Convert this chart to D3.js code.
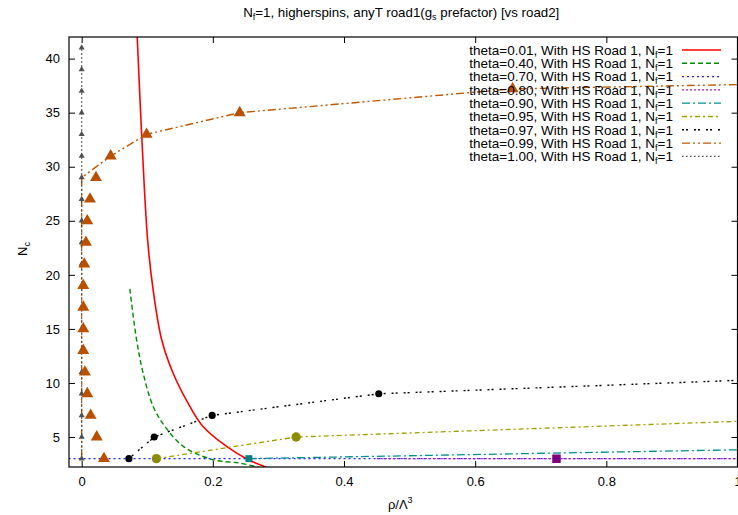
<!DOCTYPE html>
<html>
<head>
<meta charset="utf-8">
<script src="https://cdn.jsdelivr.net/npm/d3@7"></script>
<style>
  body { margin: 0; background: #fff; }
  text { font-family: "Liberation Sans", Arial, sans-serif; fill: #000; }
</style>
</head>
<body>
<svg id="chart" width="738" height="515"></svg>
<script>
// Series: [rho/Lambda^3, N_c]
const theta001 = [[0.083, 44], [0.0847, 42], [0.0914, 33.1], [0.1005, 23.3], [0.109, 18.6], [0.122, 14.0],
                  [0.1395, 10.9], [0.165, 7.83], [0.185, 5.98], [0.221, 4.13], [0.254, 2.9], [0.282, 2.2]];
const theta040 = [[0.0735, 18.7], [0.0837, 14.0], [0.0938, 10.9], [0.109, 7.83], [0.127, 5.98],
                  [0.155, 4.13], [0.2, 2.9], [0.241, 2.59], [0.27, 2.2]];
const theta070 = [[-0.02, 3], [1.0, 3]];
const theta080 = [[0.45, 3], [0.724, 3], [1.0, 3]];
const theta080Pts = [[0.724, 3]];
const theta090 = [[0.255, 3], [1.0, 3.82]];
const theta090Pts = [[0.255, 3]];
const theta095 = [[0.114, 3], [0.327, 5], [1.0, 6.45]];
const theta095Pts = [[0.114, 3], [0.327, 5]];
const theta097 = [[0.072, 3], [0.1106, 5], [0.199, 7], [0.453, 9], [1.0, 10.24]];
const theta097Pts = [[0.072, 3], [0.1106, 5], [0.199, 7], [0.453, 9]];
const theta099 = [[0, 3], [0, 29], [0.0446, 31], [0.099, 33], [0.241, 35], [0.657, 37.2], [1.0, 37.6]];
const theta099Pts = [[0.034, 3], [0.023, 5], [0.0137, 7], [0.0086, 9], [0.005, 11], [0.0025, 13], [0.0025, 15],
                     [0.0025, 17], [0.0025, 19], [0.004, 21], [0.0065, 23], [0.0086, 25], [0.0127, 27],
                     [0.0218, 29], [0.0442, 31], [0.099, 33], [0.241, 35], [0.657, 37.2]];
const theta100 = [[0, 3], [0, 41]];
const theta100Pts = [3, 5, 7, 9, 11, 13, 15, 17, 19, 21, 23, 25, 27, 29, 31, 33, 35, 37, 39, 41].map(n => [0, n]);

const thetaLabels = ["0.01", "0.40", "0.70", "0.80", "0.90", "0.95", "0.97", "0.99", "1.00"];
const xTicks = [0, 0.2, 0.4, 0.6, 0.8, 1];
const yTicks = [5, 10, 15, 20, 25, 30, 35, 40];

// Set up dimensions
const margin = { top: 37, right: 0.5, bottom: 48, left: 69 };
const width = 738 - margin.left - margin.right;
const height = 515 - margin.top - margin.bottom;

const svg = d3.select("#chart")
  .append("g")
  .attr("transform", "translate(" + margin.left + "," + margin.top + ")");

const x = d3.scaleLinear().domain([-0.0193, 1]).range([0, width]);
const y = d3.scaleLinear().domain([2.227, 42.0]).range([height, 0]);

svg.append("clipPath").attr("id", "clip")
  .append("rect").attr("width", width).attr("height", height);

// Axes with inward ticks (and mirrored on top / right)
function styleAxis(g) {
  g.select(".domain").remove();
  g.selectAll(".tick line").attr("stroke", "#000").attr("stroke-width", 1);
  g.selectAll(".tick text").style("font-family", "Liberation Sans, Arial, sans-serif").style("font-size", "13px").attr("fill", "#000");
}
svg.append("g").attr("transform", "translate(0," + height + ")")
  .call(d3.axisBottom(x).tickValues(xTicks).tickSizeInner(-6).tickSizeOuter(0).tickPadding(10).tickFormat(d3.format("")))
  .call(styleAxis);
svg.append("g")
  .call(d3.axisTop(x).tickValues(xTicks).tickSizeInner(-6).tickSizeOuter(0).tickFormat(""))
  .call(styleAxis);
svg.append("g")
  .call(d3.axisLeft(y).tickValues(yTicks).tickSizeInner(-6).tickSizeOuter(0).tickPadding(9))
  .call(styleAxis);
svg.append("g").attr("transform", "translate(" + width + ",0)")
  .call(d3.axisRight(y).tickValues(yTicks).tickSizeInner(-6).tickSizeOuter(0).tickFormat(""))
  .call(styleAxis);

// Series styles
const series = [
  { data: theta001, color: "#ff0000", dash: null, w: 1.6 },
  { data: theta040, color: "#008a00", dash: "5,3", w: 1.4 },
  { data: theta070, color: "#2020ff", dash: "2,3", w: 1.2 },
  { data: theta080, color: "#a020c0", dash: "2,2", w: 1.2 },
  { data: theta090, color: "#009090", dash: "8,3,2,3", w: 1.3 },
  { data: theta095, color: "#a0a000", dash: "5,3,2,3", w: 1.3 },
  { data: theta097, color: "#000000", dash: "2,2,2,6", w: 1.4 },
  { data: theta099, color: "#c05800", dash: "8,3,2,3,2,3", w: 1.4 },
  { data: theta100, color: "#404040", dash: "1.5,2.5", w: 1.3 }
];

const plot = svg.append("g").attr("clip-path", "url(#clip)");

const line = d3.line().x(d => x(d[0])).y(d => y(d[1]));
const smooth = d3.line().x(d => x(d[0])).y(d => y(d[1])).curve(d3.curveCatmullRom.alpha(0.5));

series.forEach((s, i) => {
  plot.append("path")
    .datum(s.data)
    .attr("fill", "none")
    .attr("stroke", s.color)
    .attr("stroke-width", s.w)
    .attr("stroke-dasharray", s.dash)
    .attr("d", i < 2 ? smooth : line);
});

// Point markers
function marks(data, type, size, fill) {
  plot.selectAll(null)
    .data(data)
    .enter().append("path")
    .attr("transform", d => "translate(" + x(d[0]) + "," + y(d[1]) + ")")
    .attr("d", d3.symbol().type(type).size(size))
    .attr("fill", fill);
}
marks(theta100Pts, d3.symbolTriangle, 16, "#505050");
marks(theta099Pts, d3.symbolTriangle, 62, "#b85000");
marks(theta097Pts, d3.symbolCircle, 40, "#000000");
marks(theta095Pts, d3.symbolCircle, 68, "#8c8c00");
marks(theta090Pts, d3.symbolSquare, 48, "#008080");
marks(theta080Pts, d3.symbolSquare, 72, "#800080");

// Legend
const legend = svg.append("g");
thetaLabels.forEach((t, i) => {
  const ly = 13 + i * 13.3;
  const txt = legend.append("text")
    .attr("x", 604).attr("y", ly).attr("dy", "0.35em")
    .attr("text-anchor", "end")
    .style("font-size", "13.5px");
  txt.append("tspan").text("theta=" + t + ", With HS Road 1, N");
  txt.append("tspan").attr("dy", 3).style("font-size", "9px").text("f");
  txt.append("tspan").attr("dy", -3).text("=1");
  legend.append("line")
    .attr("x1", 613).attr("x2", 652).attr("y1", ly).attr("y2", ly)
    .attr("stroke", series[i].color)
    .attr("stroke-width", series[i].w)
    .attr("stroke-dasharray", series[i].dash);
});

// Border
svg.append("rect")
  .attr("width", width).attr("height", height)
  .attr("fill", "none").attr("stroke", "#000").attr("stroke-width", 1.2);

// X axis label
const xl = svg.append("text")
  .attr("x", width / 2 - 3).attr("y", height + 42)
  .attr("text-anchor", "middle")
  .style("font-size", "13px");
xl.append("tspan").text("ρ/Λ");
xl.append("tspan").attr("dy", -6).style("font-size", "9px").text("3");

// Y axis label
const yl = svg.append("text")
  .attr("transform", "rotate(-90)")
  .attr("x", -(height / 2) + 3).attr("y", -42)
  .attr("text-anchor", "middle")
  .style("font-size", "13px");
yl.append("tspan").text("N");
yl.append("tspan").attr("dy", 3).style("font-size", "9px").text("c");

// Title
const title = svg.append("text")
  .attr("x", width / 2 - 2).attr("y", -20)
  .attr("text-anchor", "middle")
  .style("font-size", "13.3px");
title.append("tspan").text("N");
title.append("tspan").attr("dy", 3).style("font-size", "9px").text("f");
title.append("tspan").attr("dy", -3).text("=1, higherspins, anyT road1(g");
title.append("tspan").attr("dy", 3).style("font-size", "9px").text("s");
title.append("tspan").attr("dy", -3).text(" prefactor) [vs road2]");
</script>
</body>
</html>
